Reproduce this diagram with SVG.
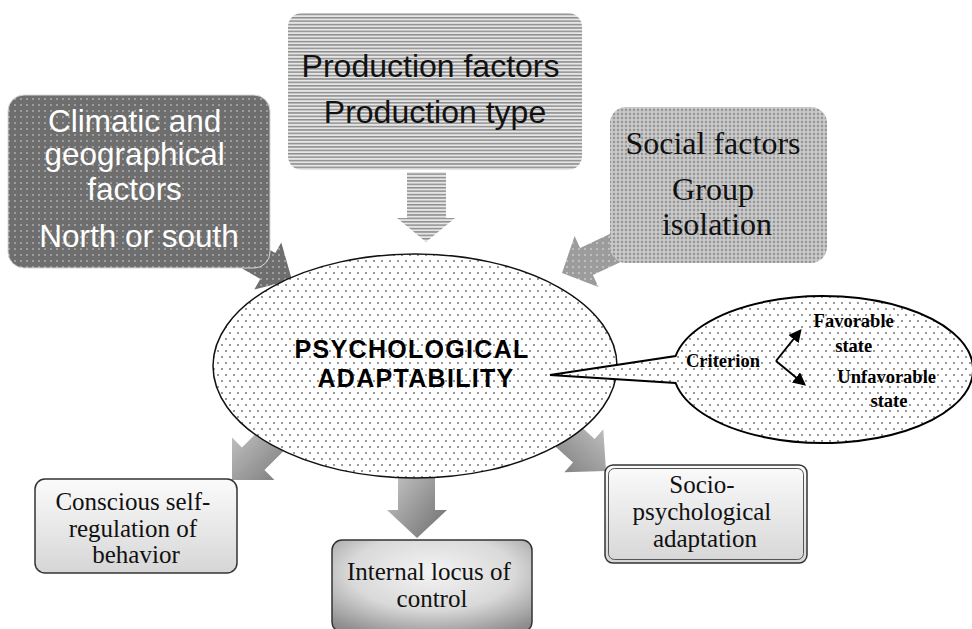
<svg xmlns="http://www.w3.org/2000/svg" width="972" height="629" viewBox="0 0 972 629">
  <defs>
    <!-- fills -->
    <pattern id="dotsFine" width="8" height="12" patternUnits="userSpaceOnUse">
      <rect width="8" height="12" fill="#ffffff"/>
      <circle cx="2" cy="3" r="0.75" fill="#000"/>
      <circle cx="6" cy="9" r="0.75" fill="#000"/>
    </pattern>
    <pattern id="darkDots" width="6" height="6" patternUnits="userSpaceOnUse">
      <rect width="6" height="6" fill="#6e6e6e"/>
      <rect x="2.4" y="2.2" width="1.2" height="1.6" fill="#cfcfcf"/>
    </pattern>
    <pattern id="greyDots" width="6" height="6" patternUnits="userSpaceOnUse">
      <rect width="6" height="6" fill="#9c9c9c"/>
      <rect x="2.4" y="2.2" width="1.2" height="1.6" fill="#e4e4e4"/>
    </pattern>
    <pattern id="stripes" width="4" height="3.4" patternUnits="userSpaceOnUse">
      <rect width="4" height="3.4" fill="#e6e6e6"/>
      <rect width="4" height="1.5" fill="#8e8e8e"/>
    </pattern>
    <pattern id="lattice" width="4" height="4" patternUnits="userSpaceOnUse">
      <rect width="4" height="4" fill="#c4c4c4"/>
      <circle cx="2" cy="2" r="1.15" fill="#949494"/>
      <circle cx="0" cy="0" r="0.6" fill="#e2e2e2"/>
      <circle cx="4" cy="0" r="0.6" fill="#e2e2e2"/>
      <circle cx="0" cy="4" r="0.6" fill="#e2e2e2"/>
      <circle cx="4" cy="4" r="0.6" fill="#e2e2e2"/>
    </pattern>
    <linearGradient id="arrowShade" x1="0" y1="0" x2="1" y2="1">
      <stop offset="0" stop-color="#d4d4d4"/>
      <stop offset="1" stop-color="#6c6c6c"/>
    </linearGradient>
    <linearGradient id="arrowShadeR" x1="1" y1="0" x2="0" y2="1">
      <stop offset="0" stop-color="#d4d4d4"/>
      <stop offset="1" stop-color="#6c6c6c"/>
    </linearGradient>
    <linearGradient id="boxShade" x1="0" y1="0" x2="0" y2="1">
      <stop offset="0" stop-color="#fbfbfb"/>
      <stop offset="1" stop-color="#d6d6d6"/>
    </linearGradient>
    <radialGradient id="boxGlow" cx="0.5" cy="0.35" r="0.75">
      <stop offset="0" stop-color="#f4f4f4"/>
      <stop offset="0.55" stop-color="#d9d9d9"/>
      <stop offset="1" stop-color="#8c8c8c"/>
    </radialGradient>
    <marker id="head" viewBox="0 0 10 10" refX="8" refY="5" markerWidth="6.5" markerHeight="6.5" orient="auto">
      <path d="M0,0 L10,5 L0,10 Z" fill="#000"/>
    </marker>
    <style>
      .sans { font-family: "Liberation Sans", Arial, sans-serif; }
      .serif { font-family: "Liberation Serif", "Times New Roman", serif; }
      .bigW { font-size: 31.5px; fill: #ffffff; }
      .bigB { font-size: 32px; fill: #111; }
      .soc { font-size: 32px; fill: #111; }
      .title { font-size: 25px; font-weight: bold; fill: #000; letter-spacing: 1.3px; }
      .crit { font-size: 18.5px; font-weight: bold; fill: #000; }
      .out { font-size: 25px; fill: #111; }
      .boxLine { stroke: #333; stroke-width: 1.5; }
    </style>
  </defs>

  <!-- connectors -->
  <g id="connectors">
    <!-- inflow arrows from the three factor boxes -->
    <polygon id="arrow-climate" points="215.2,253 260.3,279 254.3,289.4 292,280 281.3,242.6 275.3,253 230.2,227" fill="url(#darkDots)"/>
    <polygon id="arrow-production" points="407,172 407,218 397,218 426,242 455,218 446,218 446,172" fill="url(#stripes)"/>
    <polygon id="arrow-social" points="637.2,221.1 580.1,247.9 574.6,236.1 562,273 598.4,286.9 592.9,275.1 650,248.3" fill="url(#greyDots)"/>
    <!-- outflow arrows towards the three outcomes -->
    <polygon id="arrow-selfreg" points="284.3,405.1 241.9,447.5 232,437.6 232,480 274.4,480 264.5,470.1 306.9,427.7" fill="url(#arrowShade)"/>
    <polygon id="arrow-locus" points="398,455 398,510 387,510 417,538 447,510 435,510 435,455" fill="url(#arrowShade)"/>
    <polygon id="arrow-socio" points="528.6,422.2 573,462.6 564.3,472.3 606,471 603.3,429.3 594.6,439 550.2,398.6" fill="url(#arrowShadeR)"/>
  </g>

  <!-- factor boxes -->
  <g id="climate">
    <rect x="8" y="95" width="262" height="173" rx="16" fill="url(#darkDots)" stroke="#d8d8d8" stroke-width="1"/>
    <text class="sans bigW" text-anchor="middle">
      <tspan x="139" y="132">Climatic and</tspan>
      <tspan x="139" y="165">geographical</tspan>
      <tspan x="139" y="200">factors</tspan>
      <tspan x="139" y="247">North or south</tspan>
    </text>
  </g>

  <g id="production">
    <rect x="288" y="13" width="294" height="157" rx="14" fill="url(#stripes)"/>
    <text class="sans bigB" text-anchor="middle">
      <tspan x="435" y="77">Production factors</tspan>
      <tspan x="435" y="123">Production type</tspan>
    </text>
  </g>

  <g id="social">
    <rect x="610" y="107" width="217" height="156" rx="16" fill="url(#lattice)"/>
    <text class="serif soc" text-anchor="middle">
      <tspan x="717" y="154">Social factors</tspan>
      <tspan x="717" y="200">Group</tspan>
      <tspan x="717" y="235">isolation</tspan>
    </text>
  </g>

  <!-- central node -->
  <g id="adaptability">
    <ellipse cx="415" cy="366" rx="202" ry="112" fill="url(#dotsFine)" stroke="#111" stroke-width="1.5"/>
    <text class="sans title" text-anchor="middle">
      <tspan x="416" y="358">PSYCHOLOGICAL</tspan>
      <tspan x="416" y="387">ADAPTABILITY</tspan>
    </text>
  </g>

  <!-- criterion callout -->
  <g id="criterion">
    <path d="M550,375 L675.6,356 A150,73.5 0 1 1 675.6,383 Z" fill="url(#dotsFine)" stroke="#000" stroke-width="2" stroke-linejoin="miter"/>
    <text class="serif crit" x="723" y="367" text-anchor="middle">Criterion</text>
    <path d="M776,361 L800,331" stroke="#000" stroke-width="2" fill="none" marker-end="url(#head)"/>
    <path d="M776,361 L804,384" stroke="#000" stroke-width="2" fill="none" marker-end="url(#head)"/>
    <text class="serif crit" text-anchor="middle">
      <tspan x="856" y="327">Favorable</tspan>
      <tspan x="856" y="352">state</tspan>
      <tspan x="889" y="383">Unfavorable</tspan>
      <tspan x="889" y="407">state</tspan>
    </text>
  </g>

  <!-- outcome boxes -->
  <g id="selfreg">
    <rect x="35" y="479" width="202" height="94" rx="10" fill="url(#boxShade)" class="boxLine"/>
    <text class="serif out" text-anchor="middle">
      <tspan x="136" y="510">Conscious self-</tspan>
      <tspan x="136" y="537">regulation of</tspan>
      <tspan x="136" y="563">behavior</tspan>
    </text>
  </g>

  <g id="locus">
    <rect x="332" y="540" width="200" height="92" rx="10" fill="url(#boxGlow)" class="boxLine"/>
    <text class="serif out" text-anchor="middle">
      <tspan x="432" y="580">Internal locus of</tspan>
      <tspan x="432" y="607">control</tspan>
    </text>
  </g>

  <g id="socio">
    <rect x="605" y="465" width="202" height="98" rx="8" fill="url(#boxShade)" class="boxLine"/>
    <rect x="608.5" y="468.5" width="195" height="91" rx="6" fill="none" stroke="#555" stroke-width="1"/>
    <text class="serif out" text-anchor="middle">
      <tspan x="705" y="493">Socio-</tspan>
      <tspan x="705" y="520">psychological</tspan>
      <tspan x="705" y="547">adaptation</tspan>
    </text>
  </g>
</svg>
